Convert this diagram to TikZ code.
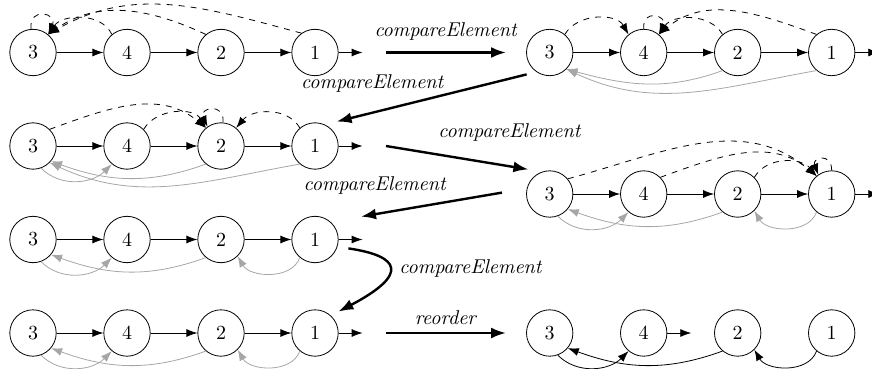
\documentclass[tikz,border=0pt]{standalone}
\usepackage{tikz}
\usetikzlibrary{arrows.meta}
\usetikzlibrary{positioning}

% Define styles
\tikzstyle{elem} = [circle, draw, minimum size=23.2pt, inner sep=0pt]
\tikzstyle{line} = [draw, -{Latex[length=5.5pt,width=4pt]}]
\tikzstyle{cmp} = [draw, dashed, -{Latex[length=5.5pt,width=4pt]}]
\tikzstyle{prev} = [draw, black!35, -{Latex[length=5.5pt,width=4pt]}]
\tikzstyle{stage} = [draw, very thick, -{Latex[length=7.5pt,width=5.5pt]}]

\begin{document}
\begin{tikzpicture}[x=1pt,y=1pt,node distance=47pt]
\useasboundingbox (0,0) rectangle (436,-184.5);

% first pass
\node [elem] (a3) at (16.5,-26.25) {3};
\node [elem, right of=a3] (a4) {4};
\node [elem, right of=a4] (a2) {2};
\node [elem, right of=a2] (a1) {1};
\coordinate [right=12pt of a1] (aout);

\draw[line] (a3) -- (a4);
\draw[line] (a4) -- (a2);
\draw[line] (a2) -- (a1);
\draw[line] (a1) -- (aout);

\draw[cmp] (a3.95) to[out=95,in=65,looseness=3.3] (a3.50);
\draw[cmp] (a4.130) to[out=115,in=55] (a3.50);
\draw[cmp] (a2.130) to[out=155,in=35] (a3.50);
\draw[cmp] (a1.125) to[out=165,in=30] (a3.50);

\node [elem] (b3) at (274.85,-26.25) {3};
\node [elem, right of=b3] (b4) {4};
\node [elem, right of=b4] (b2) {2};
\node [elem, right of=b2] (b1) {1};
\coordinate [right=12pt of b1] (bout);

\draw[line] (b3) -- (b4);
\draw[line] (b4) -- (b2);
\draw[line] (b2) -- (b1);
\draw[line] (b1) -- (bout);

\draw[cmp] (b3.50) to[out=60,in=120] (b4.130);
\draw[cmp] (b4.90) to[out=95,in=65,looseness=3.3] (b4.50);
\draw[cmp] (b2.130) to[out=120,in=55] (b4.50);
\draw[cmp] (b1.130) to[out=160,in=40] (b4.50);
\draw[prev] (b2.-130) to[out=-160,in=-15] (b3.-45);
\draw[prev] (b1.-130) to[out=-170,in=-25] (b3.-45);

% second pass
\node [elem] (c3) at (16.5,-73) {3};
\node [elem, right of=c3] (c4) {4};
\node [elem, right of=c4] (c2) {2};
\node [elem, right of=c2] (c1) {1};
\coordinate [right=12pt of c1] (cout);

\draw[line] (c3) -- (c4);
\draw[line] (c4) -- (c2);
\draw[line] (c2) -- (c1);
\draw[line] (c1) -- (cout);

\draw[cmp] (c3.45) to[out=20,in=140] (c2.130);
\draw[cmp] (c4.45) to[out=60,in=120] (c2.130);
\draw[cmp] (c2.85) to[out=85,in=115,looseness=3.3] (c2.125);
\draw[cmp] (c1.130) to[out=120,in=50] (c2.50);
\draw[prev] (c3.-70) to[out=-45,in=-135] (c4.-130);
\draw[prev] (c2.-130) to[out=-160,in=-20] (c3.-40);
\draw[prev] (c1.-130) to[out=-170,in=-25] (c3.-45);

\node [elem] (d3) at (274.85,-97) {3};
\node [elem, right of=d3] (d4) {4};
\node [elem, right of=d4] (d2) {2};
\node [elem, right of=d2] (d1) {1};
\coordinate [right=12pt of d1] (dout);

\draw[line] (d3) -- (d4);
\draw[line] (d4) -- (d2);
\draw[line] (d2) -- (d1);
\draw[line] (d1) -- (dout);

\draw[cmp] (d3.40) to[out=15,in=140] (d1.130);
\draw[cmp] (d4.45) to[out=20,in=140] (d1.130);
\draw[cmp] (d2.45) to[out=60,in=130] (d1.130);
\draw[cmp] (d1.90) to[out=90,in=110,looseness=3.3] (d1.125);
\draw[prev] (d3.-70) to[out=-45,in=-135] (d4.-130);
\draw[prev] (d2.-130) to[out=-160,in=-20] (d3.-40);
\draw[prev] (d1.-130) to[out=-110,in=-60] (d2.-45);

% third pass
\node [elem] (e3) at (16.5,-119.75) {3};
\node [elem, right of=e3] (e4) {4};
\node [elem, right of=e4] (e2) {2};
\node [elem, right of=e2] (e1) {1};
\coordinate [right=12pt of e1] (eout);

\draw[line] (e3) -- (e4);
\draw[line] (e4) -- (e2);
\draw[line] (e2) -- (e1);
\draw[line] (e1) -- (eout);

\draw[prev] (e3.-70) to[out=-45,in=-135] (e4.-130);
\draw[prev] (e2.-130) to[out=-160,in=-20] (e3.-40);
\draw[prev] (e1.-130) to[out=-110,in=-60] (e2.-45);

% last pass
\node [elem] (f3) at (16.5,-166.5) {3};
\node [elem, right of=f3] (f4) {4};
\node [elem, right of=f4] (f2) {2};
\node [elem, right of=f2] (f1) {1};
\coordinate [right=12pt of f1] (fout);

\draw[line] (f3) -- (f4);
\draw[line] (f4) -- (f2);
\draw[line] (f2) -- (f1);
\draw[line] (f1) -- (fout);

\draw[prev] (f3.-70) to[out=-45,in=-135] (f4.-130);
\draw[prev] (f2.-130) to[out=-160,in=-20] (f3.-40);
\draw[prev] (f1.-130) to[out=-110,in=-60] (f2.-45);

\node [elem] (g3) at (274.85,-166.5) {3};
\node [elem, right of=g3] (g4) {4};
\node [elem, right of=g4] (g2) {2};
\node [elem, right of=g2] (g1) {1};
\coordinate [right=12pt of g4] (gout);

\draw[line] (g4) -- (gout);
\draw[line] (g3.-70) to[out=-45,in=-135] (g4.-130);
\draw[line] (g2.-130) to[out=-160,in=-20] (g3.-40);
\draw[line] (g1.-130) to[out=-110,in=-60] (g2.-45);

% steps
\coordinate (s1a) at (193,-26.25);
\coordinate (s1b) at (253,-26.25);
\coordinate (s2a) at (263.3,-37.2);
\coordinate (s2b) at (168.3,-60.8);
\coordinate (s3a) at (193,-73);
\coordinate (s3b) at (264.2,-84.7);
\coordinate (s4a) at (251,-96.3);
\coordinate (s4b) at (180.5,-108.3);
\coordinate (s5a) at (174.2,-124.2);
\coordinate (s5b) at (169.2,-155.8);
\coordinate (s6a) at (193,-166.5);
\coordinate (s6b) at (253,-166.5);

\draw[stage] (s1a) -- node[above=2pt] {\textit{compareElement}} (s1b);
\draw[stage] (s2a) -- node[pos=.81,above=6pt] {\textit{compareElement}} (s2b);
\draw[stage] (s3a) -- node[pos=.87,above=8.5pt] {\textit{compareElement}} (s3b);
\draw[stage] (s4a) -- node[pos=.9,above=6pt] {\textit{compareElement}} (s4b);
\draw[stage] (s5a) .. controls (200,-128) and (205,-137) .. node[pos=.5,right=1pt] {\textit{compareElement}} (s5b);
\draw[stage] (s6a) -- node[above] {\textit{reorder}} (s6b);

\end{tikzpicture}
\end{document}
